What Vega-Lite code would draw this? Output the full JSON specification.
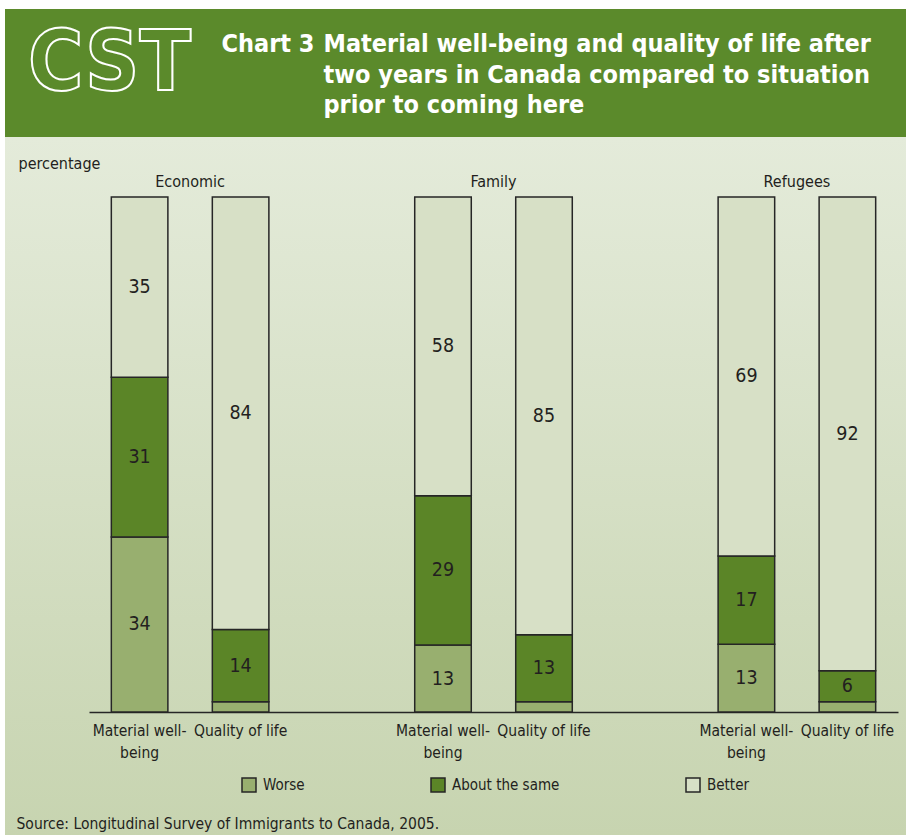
{
  "$schema": "https://vega.github.io/schema/vega-lite/v6.json",
  "background": "white",
  "padding": {"left": 5, "top": 9, "right": 0, "bottom": 0},
  "spacing": 0,
  "config": {
    "view": {"stroke": null},
    "font": "DejaVu Sans Condensed, DejaVu Sans, sans-serif"
  },
  "datasets": {
    "segments": [
      {"group": "Economic", "measure": "Material well-being", "cat": "Worse", "rank": 1, "value": 34},
      {"group": "Economic", "measure": "Material well-being", "cat": "About the same", "rank": 2, "value": 31},
      {"group": "Economic", "measure": "Material well-being", "cat": "Better", "rank": 3, "value": 35},
      {"group": "Economic", "measure": "Quality of life", "cat": "Worse", "rank": 1, "value": 2},
      {"group": "Economic", "measure": "Quality of life", "cat": "About the same", "rank": 2, "value": 14},
      {"group": "Economic", "measure": "Quality of life", "cat": "Better", "rank": 3, "value": 84},
      {"group": "Family", "measure": "Material well-being", "cat": "Worse", "rank": 1, "value": 13},
      {"group": "Family", "measure": "Material well-being", "cat": "About the same", "rank": 2, "value": 29},
      {"group": "Family", "measure": "Material well-being", "cat": "Better", "rank": 3, "value": 58},
      {"group": "Family", "measure": "Quality of life", "cat": "Worse", "rank": 1, "value": 2},
      {"group": "Family", "measure": "Quality of life", "cat": "About the same", "rank": 2, "value": 13},
      {"group": "Family", "measure": "Quality of life", "cat": "Better", "rank": 3, "value": 85},
      {"group": "Refugees", "measure": "Material well-being", "cat": "Worse", "rank": 1, "value": 13},
      {"group": "Refugees", "measure": "Material well-being", "cat": "About the same", "rank": 2, "value": 17},
      {"group": "Refugees", "measure": "Material well-being", "cat": "Better", "rank": 3, "value": 69},
      {"group": "Refugees", "measure": "Quality of life", "cat": "Worse", "rank": 1, "value": 2},
      {"group": "Refugees", "measure": "Quality of life", "cat": "About the same", "rank": 2, "value": 6},
      {"group": "Refugees", "measure": "Quality of life", "cat": "Better", "rank": 3, "value": 92}
    ],
    "bars": [
      {"group": "Economic", "measure": "Material well-being", "lab": "Material well-\nbeing"},
      {"group": "Economic", "measure": "Quality of life", "lab": "Quality of life"},
      {"group": "Family", "measure": "Material well-being", "lab": "Material well-\nbeing"},
      {"group": "Family", "measure": "Quality of life", "lab": "Quality of life"},
      {"group": "Refugees", "measure": "Material well-being", "lab": "Material well-\nbeing"},
      {"group": "Refugees", "measure": "Quality of life", "lab": "Quality of life"}
    ],
    "groups": [
      {"group": "Economic"},
      {"group": "Family"},
      {"group": "Refugees"}
    ]
  },
  "vconcat": [
    {
      "width": 901,
      "height": 128,
      "view": {"fill": "#5b8a2b", "stroke": null},
      "layer": [
        {
          "data": {"values": [{"logo": "CST"}]},
          "mark": {"type": "text", "font": "DejaVu Sans Condensed, DejaVu Sans", "fontWeight": "bold", "fontSize": 84, "fillOpacity": 0, "stroke": "white", "strokeWidth": 2, "align": "center", "baseline": "alphabetic", "dx": -346, "dy": 17},
          "encoding": {"text": {"field": "logo"}}
        },
        {
          "data": {"values": [{"num": "Chart 3"}]},
          "mark": {"type": "text", "fontWeight": "bold", "fontSize": 25, "color": "white", "align": "left", "baseline": "alphabetic", "dx": -234, "dy": -21},
          "encoding": {"text": {"field": "num"}}
        },
        {
          "data": {"values": [{"t": "Material well-being and quality of life after\ntwo years in Canada compared to situation\nprior to coming here"}]},
          "mark": {"type": "text", "fontWeight": "bold", "fontSize": 25, "color": "white", "align": "left", "baseline": "alphabetic", "lineBreak": "\n", "lineHeight": 30.5, "dx": -132, "dy": -21},
          "encoding": {"text": {"field": "t"}}
        }
      ]
    },
    {
      "width": 901,
      "height": 698,
      "view": {
        "fill": {"gradient": "linear", "x1": 0, "y1": 0, "x2": 0, "y2": 1, "stops": [{"offset": 0, "color": "#e4ebda"}, {"offset": 1, "color": "#c7d4b0"}]},
        "stroke": null
      },
      "layer": [
        {
          "data": {"name": "segments"},
          "mark": {"type": "bar", "stroke": "#262626", "strokeWidth": 1.5},
          "encoding": {
            "x": {
              "field": "group", "type": "nominal", "sort": ["Economic", "Family", "Refugees"],
              "scale": {"range": [84, 893], "paddingInner": 0.3335, "paddingOuter": 0},
              "axis": {
                "orient": "bottom", "offset": -123, "labels": false, "ticks": false, "grid": false,
                "domain": true, "domainColor": "#262626", "domainWidth": 1.5,
                "title": "Source: Longitudinal Survey of Immigrants to Canada, 2005.",
                "titleX": 11, "titleY": 116, "titleAlign": "left", "titleAnchor": "start", "titleBaseline": "alphabetic",
                "titleFontSize": 15.5, "titleFontWeight": "normal", "titleColor": "#231f20", "titleAngle": 0
              }
            },
            "xOffset": {
              "field": "measure", "type": "nominal", "sort": ["Material well-being", "Quality of life"],
              "scale": {"paddingInner": 0.44, "paddingOuter": 0.221}
            },
            "y": {
              "field": "value", "type": "quantitative", "stack": "normalize",
              "scale": {"domain": [0, 1], "range": [575, 60], "nice": false},
              "axis": {
                "title": "percentage", "titleAngle": 0, "titleX": 13, "titleY": 31, "titleAlign": "left", "titleAnchor": "start",
                "titleBaseline": "alphabetic", "titleFontSize": 16, "titleFontWeight": "normal", "titleColor": "#231f20",
                "labels": false, "ticks": false, "domain": false, "grid": false, "minExtent": 0, "maxExtent": 0
              }
            },
            "color": {
              "field": "cat", "type": "nominal",
              "scale": {"domain": ["Worse", "About the same", "Better"], "range": ["#98af6f", "#5b8527", "#d7e0c6"]},
              "legend": {
                "title": null, "orient": "none", "legendX": 236, "legendY": 768, "direction": "horizontal",
                "symbolType": "square", "symbolSize": 196, "symbolStrokeColor": "#262626", "symbolStrokeWidth": 1.5,
                "labelFontSize": 15, "labelColor": "#231f20", "labelOffset": 6, "columnPadding": 123
              }
            },
            "order": {"field": "rank", "type": "quantitative"}
          }
        },
        {
          "data": {"name": "segments"},
          "mark": {"type": "text", "fontSize": 19.5, "color": "#231f20", "baseline": "middle", "align": "center"},
          "encoding": {
            "x": {"field": "group", "type": "nominal", "sort": ["Economic", "Family", "Refugees"]},
            "xOffset": {"field": "measure", "type": "nominal", "sort": ["Material well-being", "Quality of life"]},
            "y": {"field": "value", "type": "quantitative", "stack": "normalize", "bandPosition": 0.5},
            "detail": {"field": "cat"},
            "order": {"field": "rank", "type": "quantitative"},
            "text": {"condition": {"test": "datum.value < 5", "value": ""}, "field": "value", "type": "quantitative"}
          }
        },
        {
          "data": {"name": "bars"},
          "mark": {"type": "text", "fontSize": 15.5, "color": "#231f20", "baseline": "alphabetic", "align": "center", "lineBreak": "\n", "lineHeight": 22, "dy": 24},
          "encoding": {
            "x": {"field": "group", "type": "nominal", "sort": ["Economic", "Family", "Refugees"]},
            "xOffset": {"field": "measure", "type": "nominal", "sort": ["Material well-being", "Quality of life"]},
            "y": {"datum": 0, "type": "quantitative"},
            "text": {"field": "lab"}
          }
        },
        {
          "data": {"name": "groups"},
          "mark": {"type": "text", "fontSize": 16, "color": "#231f20", "baseline": "alphabetic", "align": "center", "dy": -10},
          "encoding": {
            "x": {"field": "group", "type": "nominal", "sort": ["Economic", "Family", "Refugees"]},
            "y": {"datum": 1, "type": "quantitative"},
            "text": {"field": "group"}
          }
        }
      ]
    }
  ]
}
